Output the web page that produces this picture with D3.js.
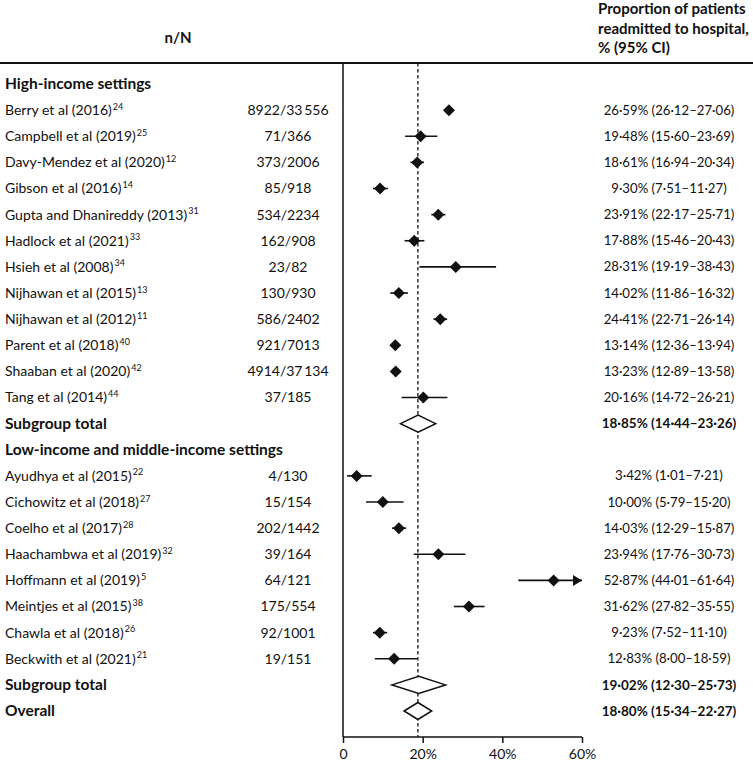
<!DOCTYPE html>
<html><head><meta charset="utf-8">
<script src="https://cdn.jsdelivr.net/npm/d3@7"></script>
<style>body{margin:0;background:#fff}svg{display:block}text{font-family:Lato,"Noto Sans",sans-serif;fill:#111}</style>
</head><body>
<script>
// ---- data ----
const rowTypes = ["header","study","study","study","study","study","study","study","study","study","study","study","study","subtotal","header","study","study","study","study","study","study","study","study","subtotal","overall"];
const labels = ["High-income settings","Berry et al (2016)","Campbell et al (2019)","Davy-Mendez et al (2020)","Gibson et al (2016)","Gupta and Dhanireddy (2013)","Hadlock et al (2021)","Hsieh et al (2008)","Nijhawan et al (2015)","Nijhawan et al (2012)","Parent et al (2018)","Shaaban et al (2020)","Tang et al (2014)","Subgroup total","Low-income and middle-income settings","Ayudhya et al (2015)","Cichowitz et al (2018)","Coelho et al (2017)","Haachambwa et al (2019)","Hoffmann et al (2019)","Meintjes et al (2015)","Chawla et al (2018)","Beckwith et al (2021)","Subgroup total","Overall"];
const refs = ["","24","25","12","14","31","33","34","13","11","40","42","44","","","22","27","28","32","5","38","26","21","",""];
const nN = ["","8922/33\u2009556","71/366","373/2006","85/918","534/2234","162/908","23/82","130/930","586/2402","921/7013","4914/37\u2009134","37/185","","","4/130","15/154","202/1442","39/164","64/121","175/554","92/1001","19/151","",""];
const est = [null,26.59,19.48,18.61,9.30,23.91,17.88,28.31,14.02,24.41,13.14,13.23,20.16,18.85,null,3.42,10.00,14.03,23.94,52.87,31.62,9.23,12.83,19.02,18.80];
const lo  = [null,26.12,15.60,16.94,7.51,22.17,15.46,19.19,11.86,22.71,12.36,12.89,14.72,14.44,null,1.01,5.79,12.29,17.76,44.01,27.82,7.52,8.00,12.30,15.34];
const hi  = [null,27.06,23.69,20.34,11.27,25.71,20.43,38.43,16.32,26.14,13.94,13.58,26.21,23.26,null,7.21,15.20,15.87,30.73,61.64,35.55,11.10,18.59,25.73,22.27];
const pooled = 18.80;
const xTicks = [0,20,40,60];
const xTickLabels = ["0","20%","40%","60%"];

// ---- layout ----
const W = 753, H = 761;
const svg = d3.select("body").append("svg").attr("width", W).attr("height", H);
const x = d3.scaleLinear().domain([0,60]).range([343,582]);
const y = d3.scaleLinear().domain([0,24]).range([84,711]);
const topY = 63, axisY = 737;
const fmt = v => v.toFixed(2).replace(".", "\u00B7");

// header
svg.append("text").attr("x",178).attr("y",43).attr("text-anchor","middle").attr("font-size",15).attr("font-weight","bold").text("n/N");
["Proportion of patients","readmitted to hospital,","% (95% CI)"].forEach((t,i)=>{
  svg.append("text").attr("x",598).attr("y",14+i*19.5).attr("font-size",15).attr("font-weight","bold").text(t);
});
svg.append("line").attr("x1",0).attr("x2",W).attr("y1",topY).attr("y2",topY).attr("stroke","#111").attr("stroke-width",1.8);

// axes lines
svg.append("line").attr("x1",x(0)).attr("x2",x(0)).attr("y1",topY).attr("y2",axisY).attr("stroke","#111").attr("stroke-width",1.5);
svg.append("line").attr("x1",x(pooled)).attr("x2",x(pooled)).attr("y1",topY).attr("y2",axisY).attr("stroke","#111").attr("stroke-width",1.3).attr("stroke-dasharray","3.5,2.5");

const ax = svg.append("g").attr("transform",`translate(0,${axisY})`)
  .call(d3.axisBottom(x).tickValues(xTicks).tickSize(6).tickFormat((d,i)=>xTickLabels[i]));
ax.select(".domain").attr("stroke","#111").attr("stroke-width",1.5).attr("d",`M${x(0)},0H${x(60)}`);
ax.selectAll(".tick line").attr("stroke","#111").attr("stroke-width",1.5);
ax.selectAll(".tick text").attr("font-size",14).attr("font-family","Lato,sans-serif").attr("fill","#111").attr("dy","0.95em");

// rows
const rows = svg.append("g");
labels.forEach((lab,i)=>{
  const t = rowTypes[i];
  const bold = t!=="study";
  const tx = rows.append("text").attr("x",5).attr("y",y(i)).attr("dy","0.35em").attr("font-size",bold?15.5:14).attr("font-weight",bold?"bold":"normal");
  tx.append("tspan").text(lab);
  if (refs[i]) tx.append("tspan").attr("font-size",9).attr("dy","-0.6em").attr("dx",1).text(refs[i]);
  if (nN[i]) rows.append("text").attr("x",288).attr("y",y(i)).attr("dy","0.35em").attr("text-anchor","middle").attr("font-size",14).text(nN[i]);
  if (est[i]!==null) {
    rows.append("text").attr("x",669).attr("y",y(i)).attr("dy","0.35em").attr("text-anchor","middle").attr("font-size",bold?13.5:13.2).attr("font-weight",bold?"bold":"normal")
      .text(`${fmt(est[i])}% (${fmt(lo[i])}\u2013${fmt(hi[i])})`);
  }
  const cy = y(i);
  if (t==="study") {
    const h = Math.min(hi[i],60);
    rows.append("line").attr("x1",x(lo[i])).attr("x2",x(h)).attr("y1",cy).attr("y2",cy).attr("stroke","#111").attr("stroke-width",1.6);
    if (hi[i]>60) {
      rows.append("path").attr("d",`M${x(60)},${cy}L${x(60)-9},${cy-5.5}L${x(60)-9},${cy+5.5}Z`).attr("fill","#111");
    }
    const cx = x(est[i]);
    rows.append("path").attr("d",`M${cx-6},${cy}L${cx},${cy-6}L${cx+6},${cy}L${cx},${cy+6}Z`).attr("fill","#111");
  } else if (t==="subtotal" || t==="overall") {
    rows.append("path").attr("d",`M${x(lo[i])},${cy}L${x(est[i])},${cy-8.5}L${x(hi[i])},${cy}L${x(est[i])},${cy+8.5}Z`)
      .attr("fill","#fff").attr("stroke","#111").attr("stroke-width",1.5);
  }
});
</script>
</body></html>
